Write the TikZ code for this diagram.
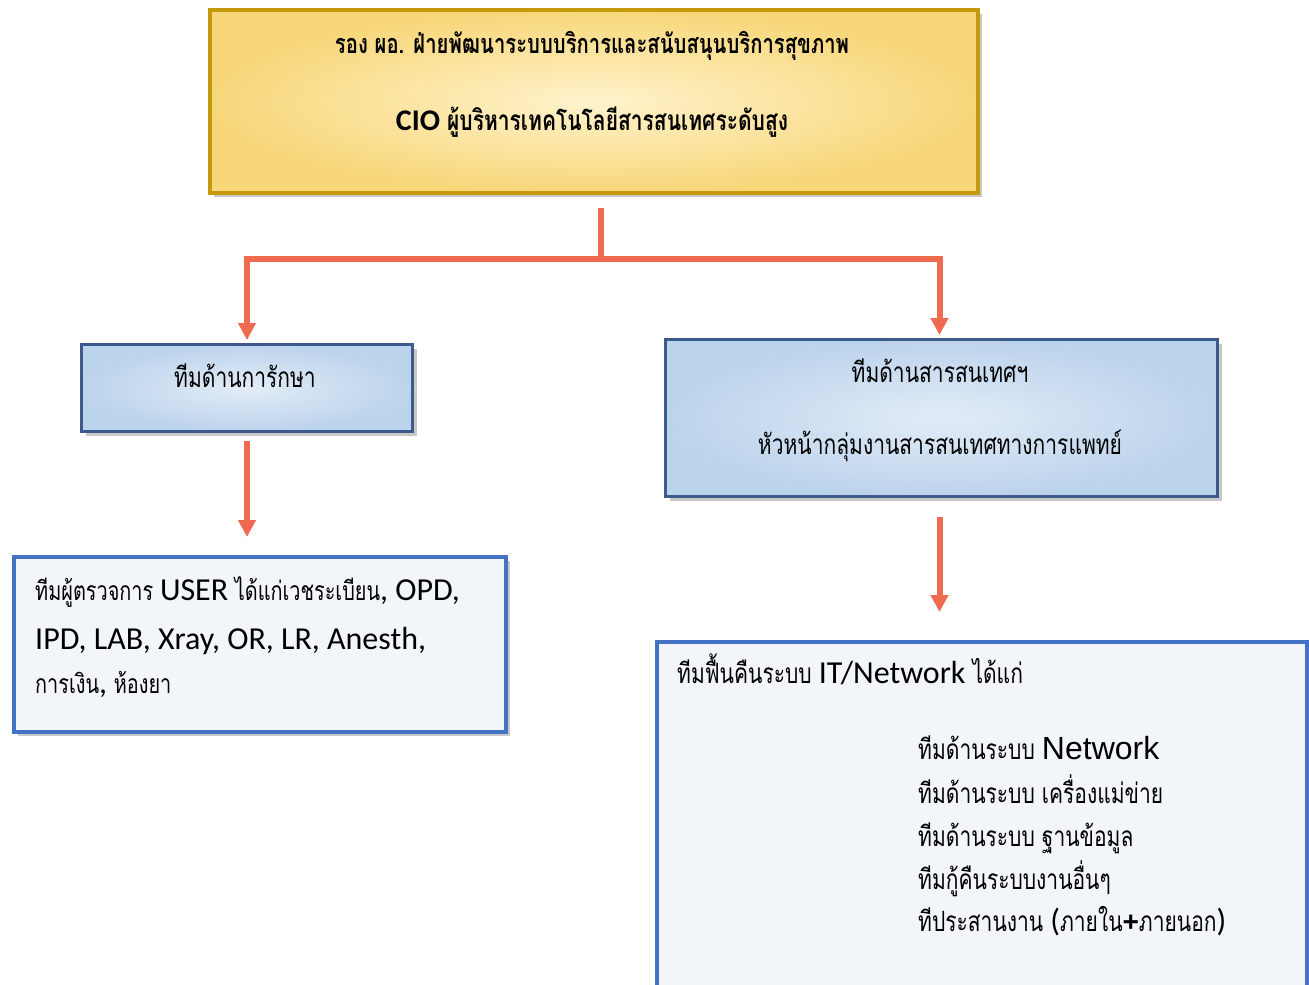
\documentclass[tikz,border=0pt]{standalone}
\usepackage{fontspec}
\usetikzlibrary{shadows,arrows.meta,calc}
\setmainfont[Script=Thai,FakeStretch=0.75]{Loma}
\newfontfamily\calfont{Carlito}
\newfontfamily\arifont{Liberation Sans}
\definecolor{arr}{HTML}{EE6B50}
\definecolor{goldb}{HTML}{C49A0C}
\definecolor{goldo}{HTML}{F8D77A}
\definecolor{goldi}{HTML}{FFF3CC}
\definecolor{blueb}{HTML}{3D5A8C}
\definecolor{blueo}{HTML}{BCD3EC}
\definecolor{bluei}{HTML}{E2ECF7}
\definecolor{lightb}{HTML}{4472C4}
\definecolor{lightf}{HTML}{F2F5FA}
\tikzset{
  box/.style={rectangle, inner sep=0pt, anchor=north west,
    drop shadow={shadow xshift=4pt, shadow yshift=-4pt, opacity=0.35, fill=black!60}},
  goldbox/.style={box, draw=goldb, line width=4pt, shading=radial, inner color=goldi, outer color=goldo},
  bluebox/.style={box, draw=blueb, line width=3pt, shading=radial, inner color=bluei, outer color=blueo},
  lightbox/.style={box, draw=lightb, line width=4pt, fill=lightf},
  conn/.style={draw=arr, line width=6pt},
  arrow/.style={conn, -{Triangle[width=17pt,length=17pt]}},
  txt/.style={inner sep=0pt, font=\fontsize{28}{34}\selectfont},
}
\newcommand{\lat}{\calfont\fontsize{32}{34}\selectfont}
\begin{document}
\begin{tikzpicture}[x=1pt,y=-1pt]
\useasboundingbox (0,0) rectangle (1309,985);
\clip (0,0) rectangle (1309,985);
\fill[white] (0,0) rectangle (1309,985);
% boxes
\node[goldbox, minimum width=768pt, minimum height=183pt] (top) at (208,8) {};
\node[bluebox, minimum width=331pt, minimum height=87pt] (left) at (80,343) {};
\node[bluebox, minimum width=552pt, minimum height=157pt] (right) at (664,338) {};
\node[lightbox, minimum width=492pt, minimum height=175pt] (bl) at (12,555) {};
\node[lightbox, minimum width=650pt, minimum height=400pt] (br) at (655,640) {};
% texts
\node[txt, font=\fontsize{27}{32}\selectfont\bfseries] (t1) at (592,46) {รอง ผอ. ฝ่ายพัฒนาระบบบริการและสนับสนุนบริการสุขภาพ};
\node[txt, font=\fontsize{28}{32}\selectfont\bfseries] (t2) at (592,122) {{\calfont\fontsize{30}{32}\selectfont CIO} ผู้บริหารเทคโนโลยีสารสนเทศระดับสูง};
\node[txt] (l1) at (245,376) {ทีมด้านการักษา};
\node[txt] (r1) at (940,371) {ทีมด้านสารสนเทศฯ};
\node[txt] (r2) at (940,446) {หัวหน้ากลุ่มงานสารสนเทศทางการแพทย์};
\node[txt, anchor=base west, font=\fontsize{26.5}{34}\selectfont] (b1) at (35,600) {ทีมผู้ตรวจการ {\lat USER} ได้แก่เวชระเบียน{\lat, OPD,}};
\node[txt, anchor=base west] (b2) at (35,649) {\lat IPD, LAB, Xray, OR, LR, Anesth,};
\node[txt, anchor=base west, font=\fontsize{26.5}{34}\selectfont] (b3) at (35,693) {การเงิน{\lat,} ห้องยา};
\node[txt, anchor=base west] (c1) at (677,683) {ทีมฟื้นคืนระบบ {\lat IT/Network} ได้แก่};
\node[txt, anchor=base west] (c2) at (918,759) {ทีมด้านระบบ {\arifont\fontsize{32}{34}\selectfont Network}};
\node[txt, anchor=base west] (c3) at (918,803) {ทีมด้านระบบ เครื่องแม่ข่าย};
\node[txt, anchor=base west] (c4) at (918,846) {ทีมด้านระบบ ฐานข้อมูล};
\node[txt, anchor=base west] (c5) at (918,889) {ทีมกู้คืนระบบงานอื่นๆ};
\node[txt, anchor=base west] (c6) at (918,931) {ทีประสานงาน {\lat(}ภายใน{\arifont\bfseries +}ภายนอก{\lat)}};
% connectors
\coordinate (j) at (601,259);
\coordinate (ra) at ($(right.south)+(-2,0)$);
\coordinate (rn) at ($(right.north)+(-2,0)$);
\draw[conn, shorten <=13pt] (top.south -| j) -- (j);
\draw[arrow, shorten >=3pt] ($(j)+(3,0)$) -| (left.north);
\draw[arrow, shorten >=3pt] ($(j)-(3,0)$) -| (rn);
\draw[arrow, shorten <=8pt, shorten >=18pt] (left.south) -- (left.south |- bl.north);
\draw[arrow, shorten <=19pt, shorten >=28pt] (ra) -- (ra |- br.north);
\end{tikzpicture}
\end{document}
